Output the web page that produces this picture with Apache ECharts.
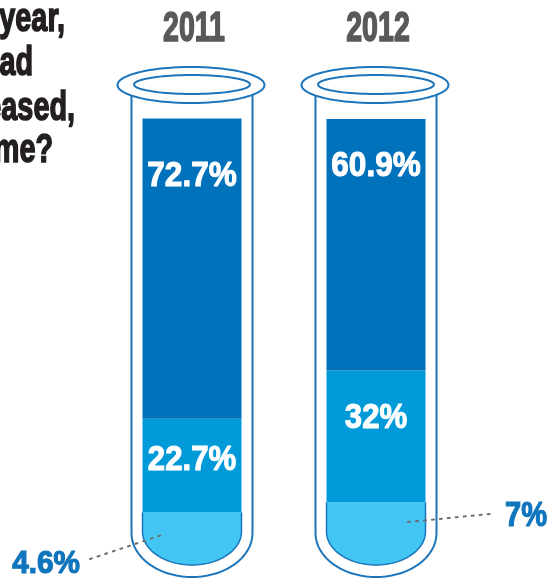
<!DOCTYPE html>
<html><head><meta charset="utf-8">
<script src="https://cdn.jsdelivr.net/npm/echarts@6/dist/echarts.min.js"></script>
<style>html,body{margin:0;padding:0;background:#fff;overflow:hidden}#c{width:551px;height:579px}</style>
</head><body><div id="c"></div>
<script>
// ---- data ----
const years = ['2011', '2012'];
const topShare = [72.7, 60.9];
const midShare = [22.7, 32];
const bottomShare = [4.6, 7];
const questionLines = ['year,', 'ad', 'eased,', 'me?'];

// ---- style ----
const FONT = '"Liberation Sans", Arial, sans-serif';
const C = {dark:'#0071bb', mid:'#009ad9', light:'#43c6f3', line:'#1b75bc', year:'#58595b', ask:'#231f20', callout:'#0f75bc', dots:'#6d6e70'};
const yearDy = -89;
const topLabelDy = [58, 48];
const midLabelDy = [42, 48];
const questionRight = [65, 33, 75, 53];
const questionBaseline = [40, 84, 129, 171];
const calloutStyle = [
  {align:'right', tx:-112, ty:33, from:[-102,27.5], to:[-30,3.5], size:32, sx:0.93},
  {align:'left', tx:129, ty:-15, from:[32,-9.5], to:[114,-17.5], size:35, sx:0.83}
];
const TUBE = {wall:60.5, outerRy:44, innerW:49.5, innerRy:33.5, rimRx:73.5, rimRy:18, rimInRx:58, rimInRy:9.5, rimOff:33.5};

function halfEllipse(cx, cy, rx, ry, n) {
  const pts = [];
  for (let k = 0; k <= n; k++) {
    const a = Math.PI - Math.PI * k / n;
    pts.push([cx + rx * Math.cos(a), cy + ry * Math.sin(a)]);
  }
  return pts;
}
function fullEllipse(cx, cy, rx, ry, n) {
  const pts = [];
  for (let k = 0; k < n; k++) {
    const a = 2 * Math.PI * k / n;
    pts.push([cx + rx * Math.cos(a), cy + ry * Math.sin(a)]);
  }
  return pts;
}
function label(x, y, text, size, sx, fill, align, weight) {
  return {type:'text', x:x, y:y, scaleX:sx,
    style:{text:text, fill:fill, stroke:fill, lineWidth:weight, fontFamily:FONT, fontWeight:'bold', fontSize:size,
      align:align || 'center', verticalAlign:'middle'}};
}

function renderBody(params, api) {
  const i = api.value(0);
  const p0 = api.coord([i, 0]);
  const pt = api.coord([i, 100]);
  const cx = p0[0], y0 = p0[1], yt = pt[1];
  const w = TUBE.wall, rimY = yt - TUBE.rimOff, yb = y0 + 1.5;
  const pts = [[cx - w, rimY]].concat(halfEllipse(cx, yb, w, TUBE.outerRy, 60)).concat([[cx + w, rimY]]);
  return {type:'group', children:[
    {type:'polygon', shape:{points:pts}, style:{fill:'#fff', stroke:null}},
    {type:'polyline', shape:{points:pts}, style:{fill:null, stroke:C.line, lineWidth:2}}
  ]};
}

function renderOverlay(params, api) {
  const i = api.value(0);
  const vb = api.value(1), vm = api.value(2), vt = api.value(3);
  const p0 = api.coord([i, 0]);
  const pb = api.coord([i, vb]);
  const pm = api.coord([i, vb + vm]);
  const pt = api.coord([i, 100]);
  const cx = p0[0], y0 = p0[1], yb = pb[1], ym = pm[1], yt = pt[1];
  const wi = TUBE.innerW;
  const capPts = [[cx - wi, yb]].concat(halfEllipse(cx, y0, wi, TUBE.innerRy, 60)).concat([[cx + wi, yb]]);
  const rimY = yt - TUBE.rimOff;
  const cs = calloutStyle[i];
  return {type:'group', children:[
    {type:'polygon', shape:{points:capPts}, style:{fill:C.light, stroke:null}},
    {type:'polyline', shape:{points:capPts}, style:{fill:null, stroke:C.line, lineWidth:1.5}},
    {type:'polygon', shape:{points:fullEllipse(cx - 1, rimY, TUBE.rimRx, TUBE.rimRy, 90)}, style:{fill:'#fff', stroke:C.line, lineWidth:2}},
    {type:'polygon', shape:{points:fullEllipse(cx, rimY - 0.5, TUBE.rimInRx, TUBE.rimInRy, 90)}, style:{fill:'#fff', stroke:C.line, lineWidth:2}},
    label(cx + 2, yt + yearDy, years[i], 42, 0.68, C.year, 'center', 1.6),
    label(cx, yt + topLabelDy[i], vt + '%', 35, 0.9, '#fff', 'center', 1.1),
    label(cx, ym + midLabelDy[i], vm + '%', 35, 0.89, '#fff', 'center', 1.1),
    {type:'line', shape:{x1:cx + cs.from[0], y1:y0 + cs.from[1], x2:cx + cs.to[0], y2:y0 + cs.to[1]},
      style:{stroke:C.dots, lineWidth:2, lineDash:[2, 6], lineCap:'round'}},
    label(cx + cs.tx, y0 + cs.ty, vb + '%', cs.size, cs.sx, C.callout, cs.align, 1.2)
  ]};
}

const chart = echarts.init(document.getElementById('c'), null, {renderer:'canvas'});
chart.setOption({
  animation:false,
  backgroundColor:'#fff',
  grid:{left:100, right:83, top:118.5, bottom:47.5},
  xAxis:{type:'category', data:years, show:false},
  yAxis:{type:'value', min:0, max:100, show:false},
  graphic: questionLines.map((t, i) => ({
    type:'text', x:questionRight[i], y:questionBaseline[i], scaleX:0.72,
    style:{text:t, fill:C.ask, stroke:C.ask, lineWidth:1.6, fontFamily:FONT, fontWeight:'bold', fontSize:40, align:'right', verticalAlign:'bottom'}
  })),
  series:[
    {type:'custom', name:'tube', z:1, silent:true, renderItem:renderBody,
      data: years.map((y, i) => [i, 0]), encode:{x:0, y:1}},
    {type:'bar', name:'bottom', stack:'tube', barWidth:99, z:2, silent:true,
      itemStyle:{color:C.light}, data:bottomShare},
    {type:'bar', name:'middle', stack:'tube', barWidth:99, z:2, silent:true,
      itemStyle:{color:C.mid}, data:midShare},
    {type:'bar', name:'top', stack:'tube', barWidth:99, z:2, silent:true,
      itemStyle:{color:C.dark}, data:topShare},
    {type:'custom', name:'overlay', z:5, silent:true, renderItem:renderOverlay, clip:false,
      data: years.map((y, i) => [i, bottomShare[i], midShare[i], topShare[i]]), encode:{x:0, y:1}}
  ]
});
</script></body></html>
